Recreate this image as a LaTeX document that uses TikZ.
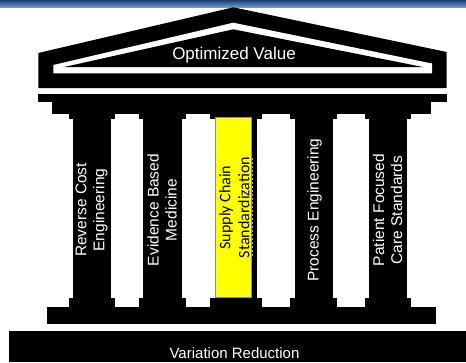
\documentclass[tikz,border=0pt]{standalone}
\usepackage{fontspec}
\setmainfont{Liberation Sans}
\newfontfamily\calibrifont{Carlito}
\definecolor{bandtop}{HTML}{1F3E6E}
\definecolor{bandbottom}{HTML}{6A9AD6}
\definecolor{pillaryellow}{HTML}{FFFF00}
\begin{document}
\begin{tikzpicture}[x=1pt,y=-1pt,
  stone/.style={fill=black},
  pillar label/.style={text=white, rotate=90, align=center, inner sep=0pt,
    font=\fontsize{15.5}{18}\selectfont},
  roof label/.style={text=white, anchor=base, inner sep=0pt,
    font=\fontsize{17}{20}\selectfont},
  base label/.style={text=white, anchor=base, inner sep=0pt,
    font=\fontsize{15}{18}\selectfont},
]
\useasboundingbox (0,0) rectangle (466,362);

% header band
\shade[top color=bandtop, bottom color=bandbottom] (0,0) rectangle (466,7);

% pediment with its white inner outline
\fill[stone] (38.3,88) -- (38.3,53) -- (233.3,7.3) -- (446.7,52) -- (446.7,88) -- cycle;
\fill[white] (53.3,73.3) -- (53.3,65) -- (233.3,22.7) -- (432,63.5) -- (432,73.3) -- cycle;
\fill[stone] (63.3,67.2) -- (233.3,29.3) -- (424,67.2) -- cycle;
\node[roof label] (roof) at (234,59.3) {Optimized Value};

% entablature steps
\fill[stone] (38.3,94) rectangle (446.7,101.7);
\fill[stone] (51.7,101.7) rectangle (431,113.6);

% five pillars: capital, shaft and plinth
\foreach \l/\r in {73.3/110.7, 143.3/181.7, 215/257.3, 295/332.7, 369.3/406.7}{
  \fill[stone] ({\l-4.7},113.3) rectangle ({\r+4.3},119);
  \fill[stone] (\l,118.5) rectangle (\r,298.5);
  \fill[stone] ({\l-4.7},298) rectangle ({\r+4.3},307.6);
}

% base step
\fill[stone] (46.7,307.3) rectangle (435.5,324.3);

% highlighted pillar
\draw[white!70!black, line width=0.8pt, dash pattern=on 2pt off 2pt] (252.4,158) -- (252.4,257);
\filldraw[fill=pillaryellow, draw=black!45, line width=0.6pt] (215.3,116.9) rectangle (251,297);

% pillar labels
\node[pillar label] (p1) at (91.5,210) {Reverse Cost\\Engineering};
\node[pillar label] (p2) at (162,210) {Evidence Based\\Medicine};
\node[rotate=90, align=center, inner sep=0pt, text=black,
      font=\calibrifont\fontsize{16}{19}\selectfont] (p3) at (234.5,207.5)
      {Supply Chain\\Standardization};
\node[pillar label] (p4) at (314.5,210) {Process Engineering};
\node[pillar label] (p5) at (387.5,210) {Patient Focused\\Care Standards};

% foundation
\fill[stone] (9,331) rectangle (466,362);
\node[base label] (foundation) at (234.5,358.3) {Variation Reduction};
\end{tikzpicture}
\end{document}
